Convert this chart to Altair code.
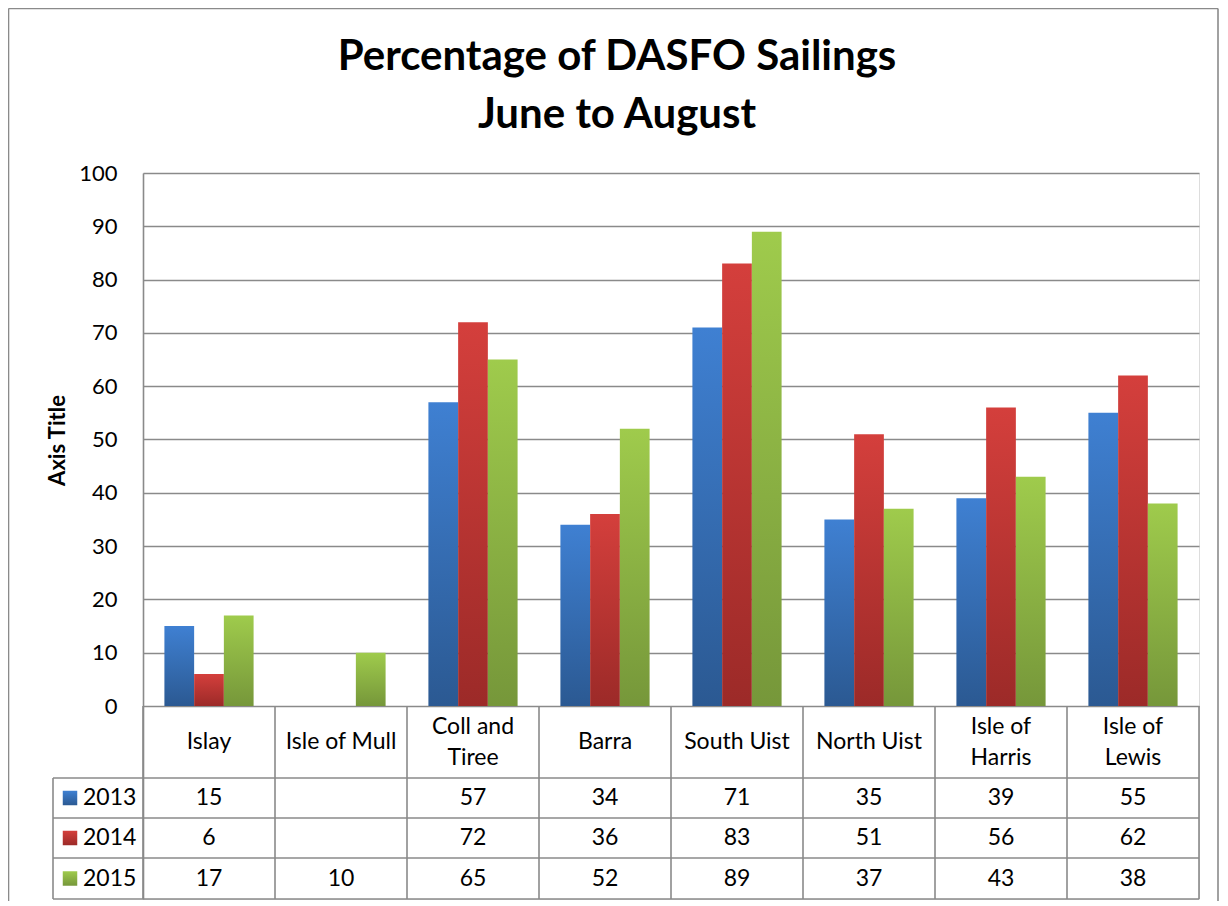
import altair as alt
import pandas as pd

# ---------------- data ----------------
categories = ["Islay", "Isle of Mull", "Coll and Tiree", "Barra", "South Uist",
              "North Uist", "Isle of Harris", "Isle of Lewis"]
category_labels = ["Islay", "Isle of Mull", "Coll and\nTiree", "Barra", "South Uist",
                   "North Uist", "Isle of\nHarris", "Isle of\nLewis"]
years = ["2013", "2014", "2015"]
v2013 = [15, None, 57, 34, 71, 35, 39, 55]
v2014 = [6, None, 72, 36, 83, 51, 56, 62]
v2015 = [17, 10, 65, 52, 89, 37, 43, 38]
y_ticks = [0, 10, 20, 30, 40, 50, 60, 70, 80, 90, 100]
title_lines = ["Percentage of DASFO Sailings", "June to August"]
axis_title = "Axis Title"

series = {"2013": v2013, "2014": v2014, "2015": v2015}
colors = {
    "2013": ("#3f80d2", "#2b5992"),
    "2014": ("#d43f3c", "#9c2a28"),
    "2015": ("#9fcb4c", "#76973a"),
}

# ---------------- layout ----------------
FONT = "Lato"
W = 1056
PLOT_PX = 533.0            # pixels from 0 to 100
PX = PLOT_PX / 100.0
TABLE_PX = [72, 112, 152, 193]   # row boundaries below zero line
ROW_CENTER_PX = [36, 92, 132, 172.5]
LINE_H = 31
H = PLOT_PX + TABLE_PX[-1]
YMIN = -TABLE_PX[-1] / PX
GRID = "#8a8a8a"


def u(px):
    return -px / PX


def grad(top, bottom):
    return alt.Gradient(
        gradient="linear",
        stops=[alt.GradientStop(color=top, offset=0),
               alt.GradientStop(color=bottom, offset=1)],
        x1=0, x2=0, y1=0, y2=1,
    )


xscale = alt.Scale(domain=categories, paddingInner=0, paddingOuter=0)
yscale = alt.Scale(domain=[YMIN, 100], nice=False, zero=False)
yaxis = alt.Axis(
    values=y_ticks, grid=True, gridColor=GRID, gridWidth=1.6,
    domain=True, domainColor=GRID, domainWidth=1.6,
    ticks=False, tickSize=0, labelPadding=26,
    labelFont=FONT, labelFontSize=22, labelColor="#000000",
    title=axis_title, titleFont=FONT, titleFontSize=22, titleFontWeight="bold",
    titleColor="#000000", titleX=-86, titleY=267, titleAlign="center",
    titleBaseline="middle",
)


def X(field="category:N", **kw):
    return alt.X(field, scale=xscale, axis=None, **kw)


def Y(field):
    return alt.Y(field, scale=yscale, axis=yaxis)


# ---------------- tables ----------------
bar_rows = []
for yr in years:
    for c, v in zip(categories, series[yr]):
        if v is not None:
            bar_rows.append({"category": c, "year": yr, "value": v, "zero": 0})
bars_df = pd.DataFrame(bar_rows)

cell_rows = []
for c, lab in zip(categories, category_labels):
    n = lab.count("\n") + 1
    first_center = ROW_CENTER_PX[0] - (n - 1) * LINE_H / 2.0
    cell_rows.append({"category": c, "yv": u(first_center), "text": lab})
for i, yr in enumerate(years):
    for c, v in zip(categories, series[yr]):
        cell_rows.append({"category": c, "yv": u(ROW_CENTER_PX[i + 1]),
                          "text": "" if v is None else str(v)})
cells_df = pd.DataFrame(cell_rows)

row_lab_df = pd.DataFrame({"year": years,
                           "yv": [u(p) for p in ROW_CENTER_PX[1:]]})
hlines_df = pd.DataFrame({"yv": [u(p) for p in TABLE_PX]})
vlines_df = pd.DataFrame({"category": categories, "top": 0.0, "bottom": YMIN})

layers = []

# table horizontal lines
layers.append(
    alt.Chart(hlines_df).mark_rule(color=GRID, strokeWidth=1.6).encode(
        x=alt.value(-90), x2=alt.value(W), y=Y("yv:Q"))
)
# table vertical lines at category starts
layers.append(
    alt.Chart(vlines_df).mark_rule(color=GRID, strokeWidth=1.6).encode(
        x=X("category:N", bandPosition=0), y=Y("top:Q"), y2="bottom:Q")
)
# right edge and legend column left edge
layers.append(
    alt.Chart(pd.DataFrame({"top": [0.0], "bottom": [YMIN]}))
    .mark_rule(color=GRID, strokeWidth=1.6)
    .encode(x=alt.value(W), y=Y("top:Q"), y2="bottom:Q")
)
layers.append(
    alt.Chart(pd.DataFrame({"top": [u(TABLE_PX[0])], "bottom": [YMIN]}))
    .mark_rule(color=GRID, strokeWidth=1.6)
    .encode(x=alt.value(-90), y=Y("top:Q"), y2="bottom:Q")
)

# bars
xoff = alt.XOffset("year:N", scale=alt.Scale(domain=years, paddingOuter=0.72,
                                               paddingInner=0))
for yr in years:
    top, bottom = colors[yr]
    layers.append(
        alt.Chart(bars_df[bars_df.year == yr]).mark_bar(fill=grad(top, bottom)).encode(
            x=X("category:N"), xOffset=xoff, y=Y("value:Q"), y2="zero:Q")
    )

# table text
layers.append(
    alt.Chart(cells_df).mark_text(font=FONT, fontSize=23, color="#000000",
                                  align="center", baseline="middle",
                                  lineBreak="\n", lineHeight=LINE_H).encode(
        x=X("category:N"), y=Y("yv:Q"), text="text:N")
)
layers.append(
    alt.Chart(row_lab_df).mark_text(font=FONT, fontSize=23, color="#000000",
                                    align="left", baseline="middle").encode(
        x=alt.value(-60), y=Y("yv:Q"), text="year:N")
)
for i, yr in enumerate(years):
    top, bottom = colors[yr]
    layers.append(
        alt.Chart(row_lab_df[row_lab_df.year == yr]).mark_square(
            size=210, fill=grad(top, bottom), opacity=1, strokeWidth=0).encode(
            x=alt.value(-73), y=Y("yv:Q"))
    )

# outer chart border (left, top, right)
layers.append(
    alt.Chart(pd.DataFrame({"a": [0]})).mark_rule(color=GRID, strokeWidth=1.6).encode(
        x=alt.value(-134.5), y=alt.value(-164.5), y2=alt.value(H + 2))
)
layers.append(
    alt.Chart(pd.DataFrame({"a": [0]})).mark_rule(color=GRID, strokeWidth=1.6).encode(
        x=alt.value(-134.5), x2=alt.value(W + 19), y=alt.value(-164.5))
)
layers.append(
    alt.Chart(pd.DataFrame({"a": [0]})).mark_rule(color=GRID, strokeWidth=1.6).encode(
        x=alt.value(W + 19), y=alt.value(-164.5), y2=alt.value(H + 2))
)

chart = alt.layer(*layers).properties(
    width=W, height=H,
    autosize=alt.AutoSizeParams(type="none"),
    padding={"left": 135, "top": 165, "right": 20, "bottom": 2},
    title=alt.TitleParams(text=title_lines, font=FONT, fontSize=42,
                          fontWeight="bold", color="#000000", anchor="middle",
                          frame="group", dx=-54, lineHeight=57.6, offset=0,
                          dy=162, baseline="alphabetic"),
).configure_view(strokeWidth=0).configure(background="white")

chart.save("out.html", embed_options={"renderer": "svg", "actions": False})
